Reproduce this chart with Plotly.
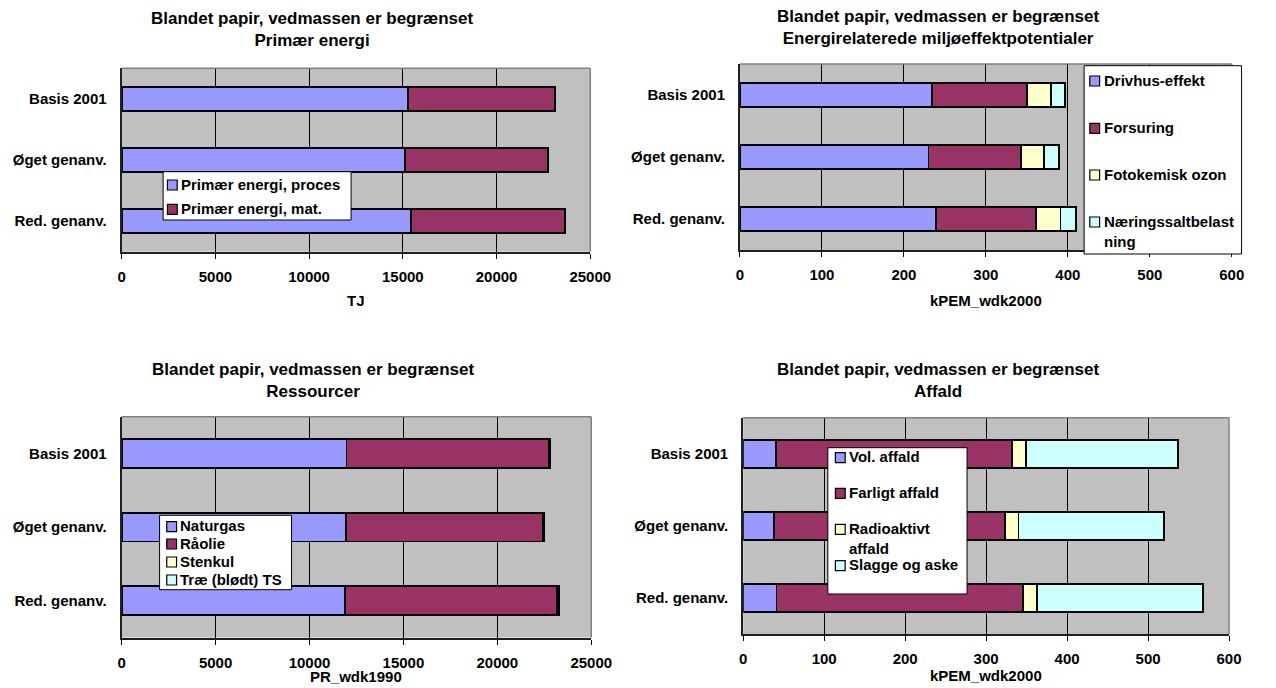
import plotly.graph_objects as go

W, H = 1276, 688

categories = ["Basis 2001", "Øget genanv.", "Red. genanv."]

# Primær energi (TJ)
energi_proces = [15260, 15100, 15450]
energi_mat = [7840, 7650, 8190]

# Energirelaterede miljøeffektpotentialer (kPEM_wdk2000)
drivhus = [234, 230, 239]
forsuring = [116, 113, 122]
fotokemisk = [29, 28, 30]
naeringssalt = [18, 18, 19]

# Ressourcer (PR_wdk1990)
naturgas = [11970, 11950, 11900]
raaolie = [10770, 10480, 11290]
stenkul = [50, 40, 60]
trae = [20, 20, 20]

# Affald (kPEM_wdk2000)
vol_affald = [40, 38, 41]
farligt_affald = [292, 285, 305]
radioaktivt_affald = [17, 17, 17]
slagge_aske = [188, 180, 205]

BLUE, MAROON, YELLOW, CYAN = "#9999FF", "#993366", "#FFFFCC", "#CCFFFF"
FONT = "Liberation Sans, Arial, sans-serif"

main_title = "Blandet papir, vedmassen er begrænset"
panels = [
    dict(sub="Primær energi", unit="TJ", rng=[0, 25000], dtick=5000,
         series=[("Primær energi, proces", energi_proces, BLUE),
                 ("Primær energi, mat.", energi_mat, MAROON)]),
    dict(sub="Energirelaterede miljøeffektpotentialer", unit="kPEM_wdk2000",
         rng=[0, 600], dtick=100,
         series=[("Drivhus-effekt", drivhus, BLUE),
                 ("Forsuring", forsuring, MAROON),
                 ("Fotokemisk ozon", fotokemisk, YELLOW),
                 ("Næringssaltbelast<br>ning", naeringssalt, CYAN)]),
    dict(sub="Ressourcer", unit="PR_wdk1990", rng=[0, 25000], dtick=5000,
         series=[("Naturgas", naturgas, BLUE),
                 ("Råolie", raaolie, MAROON),
                 ("Stenkul", stenkul, YELLOW),
                 ("Træ (blødt) TS", trae, CYAN)]),
    dict(sub="Affald", unit="kPEM_wdk2000", rng=[0, 600], dtick=100,
         series=[("Vol. affald", vol_affald, BLUE),
                 ("Farligt affald", farligt_affald, MAROON),
                 ("Radioaktivt<br>affald", radioaktivt_affald, YELLOW),
                 ("Slagge og aske", slagge_aske, CYAN)]),
]

# plot-area boxes in pixels: (left, top, right, bottom)
boxes = [(120, 68.3, 598, 251.7), (750.7, 64, 1252.3, 250),
         (120, 416.8, 599, 637.5), (754, 417.8, 1249.5, 634.2)]
title_pos = [(315, 29.5), (953, 28), (316, 380), (953, 380.5)]
unit_y = [300.5, 300, 676, 675]

# legend frames (pixels), row centres, swatch and text x positions
legend_boxes = [(162.3, 171.7, 354, 220), (1101.7, 65.7, 1262.3, 254),
                (158.7, 515.3, 293.3, 589.7), (840.3, 447.7, 982.3, 594)]
legend_rows = [[185, 209.3], [81, 128.3, 175, 222],
               [526.7, 544, 562, 580], [457.7, 493.3, 529.3, 565.7]]
swatch_x = [166.7, 1107.5, 166, 848]
text_x = [180, 1120.5, 178.5, 860.5]
SW = 10  # swatch size


def px(x):
    return x / W


def py(y):
    return 1 - y / H


fig = go.Figure()
layout = dict(
    width=W, height=H, margin=dict(l=0, r=0, t=0, b=0),
    paper_bgcolor="white", plot_bgcolor="#C0C0C0",
    barmode="stack", bargap=0.61, showlegend=False,
    font=dict(family=FONT, size=15, color="black", weight="bold"),
    annotations=[], shapes=[],
)

for i, (p, box) in enumerate(zip(panels, boxes), start=1):
    sfx = "" if i == 1 else str(i)
    for name, vals, color in p["series"]:
        fig.add_trace(go.Bar(
            y=categories, x=vals, name=name.replace("<br>", ""), orientation="h",
            marker=dict(color=color, line=dict(color="black", width=1.8)),
            xaxis=f"x{sfx}", yaxis=f"y{sfx}",
        ))
    l, t, r, b = box
    layout[f"xaxis{sfx}"] = dict(
        domain=[px(l), px(r)], anchor=f"y{sfx}", range=p["rng"], dtick=p["dtick"],
        tickformat="d",
        showgrid=True, gridcolor="black", gridwidth=1, zeroline=False,
        showline=True, linecolor="#202020", linewidth=2,
        ticks="outside", ticklen=5, tickcolor="black", ticklabelstandoff=5,
        tickfont=dict(size=15, weight="bold"), fixedrange=True,
    )
    layout[f"yaxis{sfx}"] = dict(
        domain=[py(b), py(t)], anchor=f"x{sfx}", type="category",
        categoryorder="array", categoryarray=categories, autorange="reversed",
        showgrid=False, showline=True, linecolor="#202020", linewidth=2,
        ticks="", ticklabelstandoff=10, tickfont=dict(size=15, weight="bold"),
        fixedrange=True,
    )
    # grey frame on the top and right edges of the plot area
    for x0, y0, x1, y1 in [(0, 1, 1, 1), (1, 0, 1, 1)]:
        layout["shapes"].append(dict(
            type="line", xref=f"x{sfx} domain", yref=f"y{sfx} domain",
            x0=x0, y0=y0, x1=x1, y1=y1, layer="above",
            line=dict(color="#808080", width=1.5)))
    tx, ty = title_pos[i - 1]
    layout["annotations"].append(dict(
        text=f"{main_title}<br>{p['sub']}", x=px(tx), y=py(ty),
        xref="paper", yref="paper", xanchor="center", yanchor="middle",
        showarrow=False, font=dict(size=17, weight="bold")))
    layout["annotations"].append(dict(
        text=p["unit"], x=0.5, y=py(unit_y[i - 1]),
        xref=f"x{sfx} domain", yref="paper", xanchor="center", yanchor="middle",
        showarrow=False, font=dict(size=15, weight="bold")))

# legends: white framed box with a colour swatch and label per series
for i, p in enumerate(panels):
    l, t, r, b = legend_boxes[i]
    layout["shapes"].append(dict(
        type="rect", xref="paper", yref="paper",
        x0=px(l), x1=px(r), y0=py(b), y1=py(t), layer="above",
        fillcolor="white", line=dict(color="black", width=1)))
    for (name, _, color), row in zip(p["series"], legend_rows[i]):
        sx = swatch_x[i]
        layout["shapes"].append(dict(
            type="rect", xref="paper", yref="paper",
            x0=px(sx), x1=px(sx + SW), y0=py(row + SW / 2), y1=py(row - SW / 2),
            layer="above", fillcolor=color, line=dict(color="black", width=1.2)))
        layout["annotations"].append(dict(
            text=name, x=px(text_x[i]), y=py(row - 10.5),
            xref="paper", yref="paper", xanchor="left", yanchor="top",
            align="left", showarrow=False, borderpad=0,
            font=dict(size=15, weight="bold")))

fig.update_layout(**layout)
fig.write_html("out.html")
